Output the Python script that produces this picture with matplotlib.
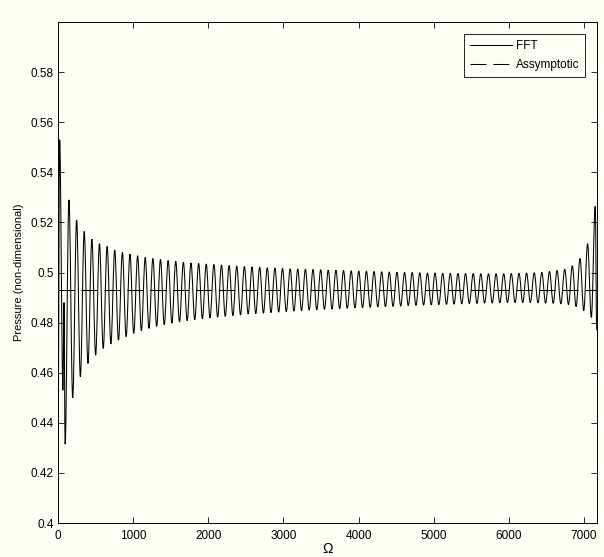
import numpy as np
import matplotlib
matplotlib.use('Agg')
import matplotlib.pyplot as plt
from matplotlib.path import Path
from matplotlib.patches import PathPatch

# datos: extremos de la oscilacion FFT
omega_ini = [0, 22, 66, 80, 95]
p_ini = [0.429, 0.553, 0.453, 0.488, 0.4315]

# picos (maximos)
omega_max = [146, 248, 349, 451, 552, 654, 755, 857, 958, 1060,
             1161, 1263, 1364, 1466, 1567, 1669, 1770, 1872, 1973, 2075,
             2176, 2278, 2379, 2481, 2582, 2684, 2785, 2887, 2988, 3090,
             3191, 3293, 3394, 3496, 3597, 3699, 3800, 3902, 4003, 4105,
             4206, 4308, 4409, 4511, 4612, 4714, 4815, 4917, 5018, 5120,
             5221, 5323, 5424, 5526, 5627, 5729, 5830, 5932, 6033, 6135,
             6236, 6338, 6439, 6541, 6642, 6744, 6845, 6947, 7048, 7150]
p_max = [0.5290, 0.5210, 0.5164, 0.5133, 0.5115, 0.5104, 0.5090, 0.5080, 0.5073, 0.5067,
         0.5060, 0.5056, 0.5052, 0.5048, 0.5045, 0.5041, 0.5038, 0.5036, 0.5034, 0.5032,
         0.5030, 0.5028, 0.5026, 0.5024, 0.5022, 0.5021, 0.5019, 0.5018, 0.5016, 0.5015,
         0.5014, 0.5013, 0.5012, 0.5011, 0.5010, 0.5009, 0.5008, 0.5007, 0.5006, 0.5005,
         0.5004, 0.5003, 0.5002, 0.5001, 0.5000, 0.5000, 0.4999, 0.4998, 0.4998, 0.4997,
         0.4997, 0.4996, 0.4996, 0.4996, 0.4995, 0.4995, 0.4995, 0.4995, 0.4996, 0.4997,
         0.4998, 0.4999, 0.5001, 0.5004, 0.5008, 0.5013, 0.5027, 0.5056, 0.5115, 0.5264]

# valles (minimos)
omega_min = [196, 298, 399, 501, 602, 704, 805, 907, 1008, 1110,
             1211, 1313, 1414, 1516, 1617, 1719, 1820, 1922, 2023, 2125,
             2226, 2328, 2429, 2531, 2632, 2734, 2835, 2937, 3038, 3140,
             3241, 3343, 3444, 3546, 3647, 3749, 3850, 3952, 4053, 4155,
             4256, 4358, 4459, 4561, 4662, 4764, 4865, 4967, 5068, 5170,
             5271, 5373, 5474, 5576, 5677, 5779, 5880, 5982, 6083, 6185,
             6286, 6388, 6489, 6591, 6692, 6794, 6895, 6997, 7098, 7170]
p_min = [0.4500, 0.4584, 0.4637, 0.4670, 0.4697, 0.4715, 0.4730, 0.4744, 0.4757, 0.4768,
         0.4777, 0.4785, 0.4792, 0.4798, 0.4803, 0.4808, 0.4812, 0.4816, 0.4819, 0.4822,
         0.4825, 0.4828, 0.4831, 0.4834, 0.4836, 0.4838, 0.4840, 0.4842, 0.4844, 0.4846,
         0.4848, 0.4850, 0.4851, 0.4853, 0.4854, 0.4856, 0.4857, 0.4859, 0.4860, 0.4861,
         0.4863, 0.4864, 0.4865, 0.4866, 0.4868, 0.4869, 0.4870, 0.4871, 0.4872, 0.4873,
         0.4874, 0.4875, 0.4876, 0.4877, 0.4878, 0.4878, 0.4879, 0.4880, 0.4880, 0.4880,
         0.4880, 0.4879, 0.4878, 0.4877, 0.4875, 0.4872, 0.4864, 0.4848, 0.4821, 0.4770]

p_asint = 0.493
omega_fin = 7170

# armar la serie en orden
omega = np.array(omega_ini + omega_max + omega_min, dtype=float)
pres = np.array(p_ini + p_max + p_min)
orden = np.argsort(omega)
omega = omega[orden]
pres = pres[orden]

plt.rcParams['font.family'] = ['Liberation Sans', 'DejaVu Sans']
fondo = '#fffff4'
fig = plt.figure(figsize=(6.04, 5.57), dpi=100, facecolor=fondo)
ax = fig.add_axes([0.096, 0.061, 0.892, 0.8995], facecolor=fondo)

# curva suave entre extremos (bezier con tangente horizontal en cada extremo)
verts = [(omega[0], pres[0])]
codes = [Path.MOVETO]
for i in range(1, len(omega)):
    x0, y0 = omega[i - 1], pres[i - 1]
    x1, y1 = omega[i], pres[i]
    d = 0.364 * (x1 - x0)
    verts += [(x0 + d, y0), (x1 - d, y1), (x1, y1)]
    codes += [Path.CURVE4] * 3
fft = PathPatch(Path(verts, codes), facecolor='none', edgecolor='black', lw=0.75)
ax.add_patch(fft)
ax.plot([], [], color='black', lw=0.75, label='FFT')

lw2 = 0.75
ax.plot([0, omega_fin], [p_asint, p_asint], color='black', lw=lw2,
        dashes=(11.5 / lw2, 5 / lw2), label='Assymptotic')

ax.set_xlim(0, omega_fin)
ax.set_ylim(0.4, 0.6)
ax.set_xticks(np.arange(0, 7001, 1000))
ax.set_yticks([0.4, 0.42, 0.44, 0.46, 0.48, 0.5, 0.52, 0.54, 0.56, 0.58])
ax.set_yticklabels(['0.4', '0.42', '0.44', '0.46', '0.48', '0.5', '0.52', '0.54', '0.56', '0.58'])
ax.tick_params(which='both', direction='in', length=4, width=0.6,
               top=True, right=True, labelsize=8.5, pad=3)
ax.tick_params(axis='x', pad=5)
for s in ax.spines.values():
    s.set_linewidth(0.7)

ax.set_xlabel('Ω', fontsize=10, labelpad=0)
ax.set_ylabel('Pressure (non-dimensional)', fontsize=8, labelpad=5)

leg = ax.legend(loc='upper right', fontsize=8.5, fancybox=False, framealpha=1,
                edgecolor='black', facecolor=fondo, handlelength=3.6,
                borderaxespad=1.0, borderpad=0.5, labelspacing=0.6, handletextpad=0.3)
leg.get_frame().set_linewidth(0.6)

fig.savefig('out.png', dpi=100, facecolor=fondo)
